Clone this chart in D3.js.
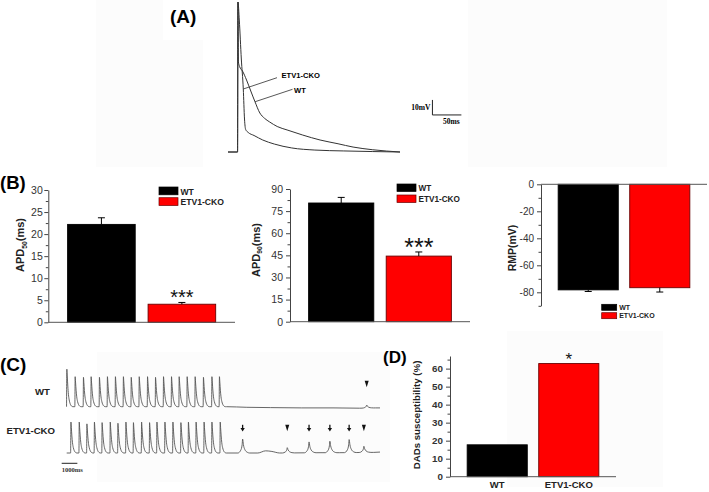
<!DOCTYPE html>
<html>
<head>
<meta charset="utf-8">
<script src="https://cdn.jsdelivr.net/npm/d3@7"></script>
<style>
body { margin: 0; background: #fff; }
svg { font-family: Arial, "Liberation Sans", sans-serif; }
</style>
</head>
<body>
<svg id="fig" width="709" height="492"></svg>
<script>
// DATA ----------------------------------------------------

const groups = ['WT', 'ETV1-CKO'];
const groupColors = ['#000000', '#ff0000'];
const groupStrokes = ['#000000', '#6a0000'];

// (A) action potentials, time in ms, voltage in mV above rest
const apWtTime = [0, 16.5, 17.2, 18, 20, 25, 32, 40, 46.6, 55, 63, 72, 85, 102, 129, 159, 190, 216, 250, 297];
const apWtVolt = [0, 0, 100, 60, 57, 54, 48, 40, 33.5, 26, 22.5, 20, 17, 14.7, 11.3, 8, 5.5, 3.3, 1.5, 0];
const apCkoTime = [0, 16.5, 17.2, 19.5, 23, 26.4, 28.5, 30.5, 35, 45, 60, 80, 110, 150, 200, 250, 297];
const apCkoVolt = [0, 0, 100, 88, 62, 42, 22, 15, 13, 11, 8, 5.3, 2.7, 1.3, 0.7, 0.3, 0];

// (B) bar data
const apd50 = [22.2, 4.1];
const apd50Err = [1.5, 0.4];
const apd90 = [80.5, 44.5];
const apd90Err = [3.8, 2.8];
const rmp = [-78.2, -76.6];
const rmpErr = [1.2, 3.2];

// (C) pacing traces, time in s
const wtSpikes = [0, 0.53, 1.06, 1.55, 2.08, 2.59, 3.1, 3.61, 4.11, 4.62, 5.15, 5.66, 6.17, 6.68, 7.17, 7.68, 8.19, 8.72, 9.26, 9.74];
const wtSpikeAmps = [125, 100, 98, 100, 98, 100, 100, 100, 98, 100, 100, 98, 100, 100, 100, 100, 100, 98, 100, 100];
const wtDadTimes = [19.15];
const wtDadAmps = [10];
const wtBase = [[10.2, 0], [11.5, -2], [13, -3], [15, -4], [17, -4], [18.7, -5], [19.7, -4], [20, -4]];

const ckoSpikes = [0.26, 0.79, 1.28, 1.76, 2.25, 2.77, 3.26, 3.77, 4.25, 4.77, 5.28, 5.75, 6.26, 6.77, 7.28, 7.76, 8.25, 8.76, 9.26, 9.79];
const ckoSpikeAmps = [100, 100, 94, 100, 98, 100, 96, 100, 98, 100, 98, 100, 100, 100, 98, 100, 100, 100, 100, 100];
const ckoDadTimes = [11.23, 14.08, 15.47, 16.8, 18.03, 18.97];
const ckoDadAmps = [45, 17, 35, 37, 42, 20];
const ckoDadMarks = ['arrow', 'head', 'arrow', 'arrow', 'arrow', 'head'];
const ckoBase = [[0, 0], [10.3, 0], [12.2, 0], [12.7, 7], [13.1, 5], [13.6, 0], [16.3, 1], [17.4, 1], [19.6, 2], [20, 3]];

// waveform shapes (dt in s, fraction of amplitude)
const apShape = [[-0.01, 0], [0.01, 1], [0.035, 0.82], [0.07, 0.55], [0.11, 0.33], [0.16, 0.18], [0.22, 0.08], [0.3, 0.02], [0.4, 0]];
const dadShape = [[-0.3, 0], [-0.12, 0.2], [-0.03, 0.6], [0, 1], [0.05, 0.6], [0.14, 0.25], [0.3, 0.05], [0.45, 0]];

// (D)
const dadSusc = [17.7, 62.8];

// FIGURE --------------------------------------------------

const svg = d3.select('#fig');

// faint panel backgrounds from the scanned figure
[[96, 0, 107, 167], [468, 0, 199, 167], [97, 352, 293, 130], [507, 331, 156, 156]].forEach(b => {
	svg.append('rect')
		.attr('x', b[0]).attr('y', b[1]).attr('width', b[2]).attr('height', b[3])
		.attr('fill', '#fcfcfc');
});
svg.append('rect').attr('x', 163).attr('y', 0).attr('width', 40).attr('height', 40).attr('fill', '#fff');

function panelLabel(txt, x, y, size) {
	svg.append('text')
		.attr('x', x).attr('y', y)
		.attr('font-size', size).attr('font-weight', 'bold')
		.text(txt);
}

panelLabel('(A)', 170, 23, 19);
panelLabel('(B)', 0, 189, 18.5);
panelLabel('(C)', 0, 371, 19);
panelLabel('(D)', 383, 363, 17);

// PANEL A ---------------------------------------------------

const tA = d3.scaleLinear().domain([0, 297]).range([228, 400]);
const vA = d3.scaleLinear().domain([0, 100]).range([152, 2]);

const lineA = d3.line()
	.x(d => tA(d[0]))
	.y(d => vA(d[1]))
	.curve(d3.curveMonotoneX);

const gA = svg.append('g');

[[apWtTime, apWtVolt], [apCkoTime, apCkoVolt]].forEach(tr => {
	gA.append('path')
		.attr('d', lineA(d3.zip(tr[0], tr[1])))
		.attr('fill', 'none')
		.attr('stroke', '#333')
		.attr('stroke-width', 1);
});

// leader lines
const ckoIdx = apCkoTime.indexOf(26.4);
const wtIdx = apWtTime.indexOf(46.6);
gA.append('line')
	.attr('x1', 277).attr('y1', 77.7)
	.attr('x2', tA(apCkoTime[ckoIdx])).attr('y2', vA(apCkoVolt[ckoIdx]))
	.attr('stroke', '#444').attr('stroke-width', 0.9);
gA.append('line')
	.attr('x1', 292.5).attr('y1', 89.3)
	.attr('x2', tA(apWtTime[wtIdx])).attr('y2', vA(apWtVolt[wtIdx]))
	.attr('stroke', '#444').attr('stroke-width', 0.9);

gA.append('text').attr('x', 281.5).attr('y', 78).attr('font-size', 7.6).attr('font-weight', 'bold').text('ETV1-CKO');
gA.append('text').attr('x', 294).attr('y', 93).attr('font-size', 7.6).attr('font-weight', 'bold').text('WT');

// scale bar 10 mV / 50 ms
gA.append('path')
	.attr('d', `M${tA(353)},${vA(34.7)}V${vA(24.7)}H${tA(403)}`)
	.attr('fill', 'none').attr('stroke', '#222').attr('stroke-width', 1);
gA.append('text')
	.attr('x', tA(353) - 2).attr('y', 110)
	.attr('text-anchor', 'end')
	.attr('font-family', '"Liberation Serif", "Times New Roman", serif')
	.attr('font-weight', 'bold').attr('font-size', 7.5)
	.text('10mV');
gA.append('text')
	.attr('x', 443).attr('y', 124)
	.attr('font-family', '"Liberation Serif", "Times New Roman", serif')
	.attr('font-weight', 'bold').attr('font-size', 7.5)
	.text('50ms');

// PANEL B & D BARS -------------------------------------------

function barPanel(cfg) {
	const g = svg.append('g');
	const x = d3.scaleBand()
		.domain(groups)
		.range([cfg.x0, cfg.x1])
		.paddingInner(0.16)
		.paddingOuter(0.24);
	const y = d3.scaleLinear()
		.domain(cfg.domain)
		.range([cfg.yb, cfg.yt]);

	g.selectAll('rect.bar')
		.data(cfg.values)
		.join('rect')
		.attr('class', 'bar')
		.attr('x', (d, i) => x(groups[i]))
		.attr('width', x.bandwidth())
		.attr('y', d => Math.min(y(d), y(0)))
		.attr('height', d => Math.abs(y(d) - y(0)))
		.attr('fill', (d, i) => groupColors[i])
		.attr('stroke', (d, i) => groupStrokes[i])
		.attr('stroke-width', 0.9);

	if (cfg.err) {
		cfg.values.forEach((v, i) => {
			const cx = x(groups[i]) + x.bandwidth() / 2;
			const e = v + Math.sign(v) * cfg.err[i];
			g.append('line')
				.attr('x1', cx).attr('x2', cx)
				.attr('y1', y(v)).attr('y2', y(e))
				.attr('stroke', '#000').attr('stroke-width', 1);
			g.append('line')
				.attr('x1', cx - 3.5).attr('x2', cx + 3.5)
				.attr('y1', y(e)).attr('y2', y(e))
				.attr('stroke', '#000').attr('stroke-width', 1);
		});
	}

	// minor ticks
	g.append('g')
		.attr('transform', `translate(${cfg.x0},0)`)
		.call(d3.axisLeft(y).tickValues(cfg.minor).tickSize(2.5).tickSizeOuter(0).tickFormat(''))
		.call(a => a.select('.domain').remove())
		.call(a => a.selectAll('line').attr('stroke', '#444'));

	// major ticks
	g.append('g')
		.attr('transform', `translate(${cfg.x0},0)`)
		.call(d3.axisLeft(y).tickValues(cfg.major).tickSize(4).tickSizeOuter(0)
			.tickPadding(cfg.pad).tickFormat(d => String(d)))
		.call(a => a.select('.domain').attr('stroke', '#444'))
		.call(a => a.selectAll('line').attr('stroke', '#444'))
		.call(a => a.selectAll('text')
			.attr('font-family', 'Arial, "Liberation Sans", sans-serif')
			.attr('font-size', cfg.tickSize)
			.attr('font-weight', cfg.tickBold ? 'bold' : 'normal')
			.attr('fill', '#333'));

	// baseline
	g.append('line')
		.attr('x1', cfg.x0).attr('x2', cfg.x1)
		.attr('y1', y(0)).attr('y2', y(0))
		.attr('stroke', '#555').attr('stroke-width', 1);

	// y title
	const t = g.append('text')
		.attr('transform', `translate(${cfg.labX},${cfg.labY}) rotate(-90)`)
		.attr('text-anchor', 'middle')
		.attr('dy', '0.35em')
		.attr('font-size', cfg.labSize)
		.attr('font-weight', 'bold')
		.attr('fill', '#222');
	t.append('tspan').text(cfg.lab[0]);
	if (cfg.lab.length > 1) {
		t.append('tspan').attr('font-size', cfg.labSize * 0.62).attr('dy', '0.35em').text(cfg.lab[1]);
		t.append('tspan').attr('dy', '-0.22em').text(cfg.lab[2]);
	}

	// stars
	if (cfg.stars) {
		g.append('text')
			.attr('x', x(groups[1]) + x.bandwidth() / 2)
			.attr('y', cfg.starY)
			.attr('text-anchor', 'middle')
			.attr('font-size', cfg.starSize)
			.attr('fill', '#111')
			.text(cfg.stars);
	}

	// legend
	if (cfg.leg) {
		groups.forEach((name, i) => {
			g.append('rect')
				.attr('x', cfg.leg.x).attr('y', cfg.leg.y + i * cfg.leg.dy)
				.attr('width', cfg.leg.w).attr('height', cfg.leg.h)
				.attr('fill', groupColors[i])
				.attr('stroke', groupStrokes[i]).attr('stroke-width', 0.7);
			g.append('text')
				.attr('x', cfg.leg.x + cfg.leg.w + 2.5)
				.attr('y', cfg.leg.y + i * cfg.leg.dy + cfg.leg.h - 0.3)
				.attr('font-size', cfg.leg.fs)
				.attr('font-weight', 'bold')
				.attr('fill', '#222')
				.text(name);
		});
	}

	return {g, x, y};
}

barPanel({
	x0: 48.3, x1: 235, yb: 322.3, yt: 190, domain: [0, 30],
	values: apd50, err: apd50Err,
	major: d3.range(0, 31, 5), minor: d3.range(2.5, 30, 5),
	pad: 1.5, tickSize: 10.5, tickBold: false,
	lab: ['APD', '50', '(ms)'], labX: 20.5, labY: 245, labSize: 11,
	stars: '***', starY: 304, starSize: 20,
	leg: {x: 159, y: 187, dy: 10.7, w: 19, h: 7.8, fs: 8.6}
});

barPanel({
	x0: 290, x1: 470, yb: 321.7, yt: 189, domain: [0, 90],
	values: apd90, err: apd90Err,
	major: d3.range(0, 91, 15), minor: d3.range(7.5, 90, 15),
	pad: 3, tickSize: 10.5, tickBold: false,
	lab: ['APD', '90', '(ms)'], labX: 256, labY: 250, labSize: 11,
	stars: '***', starY: 256, starSize: 25,
	leg: {x: 397, y: 184, dy: 11, w: 19, h: 7.5, fs: 8.2}
});

barPanel({
	x0: 541, x1: 707, yb: 305.8, yt: 184.3, domain: [-90, 0],
	values: rmp, err: rmpErr,
	major: d3.range(-80, 1, 20), minor: [-90, -70, -50, -30, -10],
	pad: 3, tickSize: 10, tickBold: false,
	lab: ['RMP(mV)'], labX: 512, labY: 248, labSize: 10.5,
	leg: {x: 601.7, y: 304.3, dy: 8.4, w: 15, h: 6, fs: 7}
});

const dPanel = barPanel({
	x0: 450, x1: 616, yb: 476.7, yt: 356, domain: [0, 67],
	values: dadSusc,
	major: d3.range(0, 61, 10), minor: d3.range(5, 66, 10),
	pad: 3, tickSize: 9.8, tickBold: true,
	lab: ['DADs susceptibility (%)'], labX: 416.5, labY: 415, labSize: 9.7,
	stars: '*', starY: 365, starSize: 17
});

dPanel.g.selectAll('text.xlab')
	.data(groups)
	.join('text')
	.attr('class', 'xlab')
	.attr('x', d => dPanel.x(d) + dPanel.x.bandwidth() / 2)
	.attr('y', 488)
	.attr('text-anchor', 'middle')
	.attr('font-size', 9.5)
	.attr('font-weight', 'bold')
	.attr('fill', '#222')
	.text(d => d);

// PANEL C ---------------------------------------------------

const tC = d3.scaleLinear().domain([0, 20]).range([66.7, 380]);
const vWt = d3.scaleLinear().domain([0, 100]).range([406.7, 376.7]);
const vCko = d3.scaleLinear().domain([0, 100]).range([453, 422]);

function buildTrace(spikes, amps, dads, dadAmps, base) {
	const baseAt = d3.scaleLinear().domain(base.map(p => p[0])).range(base.map(p => p[1])).clamp(true);
	const pts = [];
	spikes.forEach((t0, i) => apShape.forEach(s => pts.push([t0 + s[0], baseAt(t0 + s[0]) + amps[i] * s[1]])));
	dads.forEach((t0, i) => dadShape.forEach(s => pts.push([t0 + s[0], baseAt(t0 + s[0]) + dadAmps[i] * s[1]])));
	base.forEach(p => pts.push(p));
	pts.sort((a, b) => a[0] - b[0]);
	return pts;
}

const gC = svg.append('g');

const wtTrace = buildTrace(wtSpikes, wtSpikeAmps, wtDadTimes, wtDadAmps, wtBase);
const ckoTrace = buildTrace(ckoSpikes, ckoSpikeAmps, ckoDadTimes, ckoDadAmps, ckoBase);

gC.append('path')
	.attr('d', d3.line().x(d => tC(d[0])).y(d => vWt(d[1])).curve(d3.curveMonotoneX)(wtTrace))
	.attr('fill', 'none').attr('stroke', '#555').attr('stroke-width', 0.9);
gC.append('path')
	.attr('d', d3.line().x(d => tC(d[0])).y(d => vCko(d[1])).curve(d3.curveMonotoneX)(ckoTrace))
	.attr('fill', 'none').attr('stroke', '#555').attr('stroke-width', 0.9);

gC.append('text').attr('x', 35).attr('y', 395).attr('font-size', 9.6).attr('font-weight', 'bold').attr('fill', '#222').text('WT');
gC.append('text').attr('x', 6.5).attr('y', 433.5).attr('font-size', 9.6).attr('font-weight', 'bold').attr('fill', '#222').text('ETV1-CKO');

function arrowHead(x, yTop) {
	gC.append('path')
		.attr('d', `M${x - 2},${yTop}H${x + 2}L${x},${yTop + 6.5}Z`)
		.attr('fill', '#111');
}
function downArrow(x, yTop) {
	gC.append('line')
		.attr('x1', x).attr('x2', x).attr('y1', yTop).attr('y2', yTop + 4)
		.attr('stroke', '#111').attr('stroke-width', 1.3);
	gC.append('path')
		.attr('d', `M${x - 2.2},${yTop + 3.3}H${x + 2.2}L${x},${yTop + 6.8}Z`)
		.attr('fill', '#111');
}

ckoDadTimes.forEach((t0, i) => {
	if (ckoDadMarks[i] === 'arrow') downArrow(tC(t0), 424.8);
	else arrowHead(tC(t0), 424.8);
});
wtDadTimes.forEach(t0 => arrowHead(tC(t0), 380.8));

// 1000 ms scale bar
gC.append('line')
	.attr('x1', tC(-0.32)).attr('x2', tC(0.68))
	.attr('y1', 463.3).attr('y2', 463.3)
	.attr('stroke', '#222').attr('stroke-width', 1);
gC.append('text')
	.attr('x', tC(-0.32)).attr('y', 471.5)
	.attr('font-family', '"Liberation Serif", "Times New Roman", serif')
	.attr('font-weight', 'bold').attr('font-size', 6.6)
	.attr('fill', '#333')
	.text('1000ms');
</script>
</body>
</html>
